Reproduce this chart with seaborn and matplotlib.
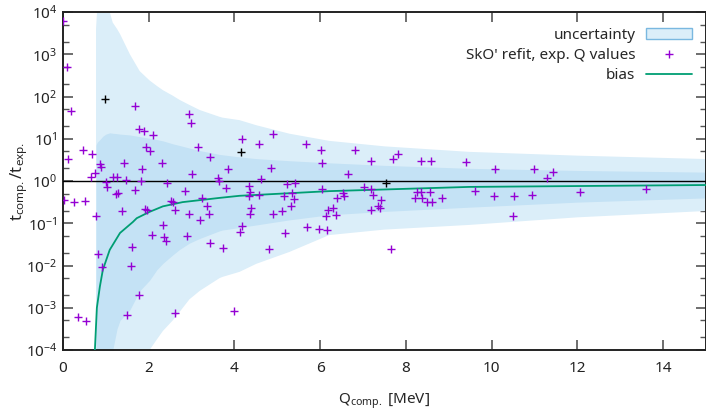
import numpy as np
import pandas as pd
import seaborn as sns
import matplotlib.pyplot as plt
from matplotlib.patches import Patch
from matplotlib.lines import Line2D
from matplotlib.ticker import LogLocator, MultipleLocator, NullFormatter

# uncertainty bands (log10 of t_comp/t_exp)
band_q = [0.77, 0.80, 0.86, 0.93, 1.00, 1.09, 1.16, 1.26, 1.33, 1.56, 1.79, 2.02,
          2.19, 2.33, 2.56, 2.72, 2.95, 3.19, 3.65, 3.72, 4.12, 4.51, 5.28, 6.21,
          7.50, 9.47, 12.0, 15.0]
outer_hi = [3.60, 4.10, 4.40, 4.50, 4.40, 4.00, 3.75, 3.60, 3.48, 3.00, 2.60, 2.38,
            2.25, 2.15, 2.02, 1.92, 1.80, 1.68, 1.52, 1.50, 1.44, 1.32, 1.12, 0.95,
            0.82, 0.69, 0.60, 0.52]
inner_hi = [0.85, 0.92, 0.98, 1.06, 1.11, 1.14, 1.13, 1.12, 1.11, 1.09, 1.05, 1.01,
            0.98, 0.95, 0.88, 0.84, 0.78, 0.72, 0.63, 0.62, 0.57, 0.53, 0.48, 0.43,
            0.37, 0.30, 0.25, 0.21]
inner_lo = [-6.0, -6.0, -6.0, -6.0, -6.0, -5.0, -4.0, -3.50, -3.30, -3.05, -2.60, -2.35,
            -2.10, -1.95, -1.75, -1.62, -1.47, -1.36, -1.18, -1.16, -1.10, -1.04, -0.92, -0.80,
            -0.72, -0.62, -0.50, -0.40]
outer_lo = [-6.0, -6.0, -6.0, -6.0, -6.0, -6.0, -6.0, -6.0, -6.0, -6.0, -6.0, -4.00,
            -3.75, -3.55, -3.30, -3.10, -2.80, -2.60, -2.30, -2.27, -2.15, -1.96, -1.68, -1.28,
            -1.15, -1.04, -0.86, -0.71]

# bias curve
bias_q = [0.744, 0.79, 0.86, 0.93, 1.09, 1.33, 1.63, 1.72, 2.02, 2.33, 2.79,
          3.65, 4.12, 6.21, 9.47, 15.0]
bias_log = [-4.0, -3.0, -2.5, -2.1, -1.63, -1.23, -0.97, -0.88, -0.73, -0.60, -0.50,
            -0.40, -0.35, -0.24, -0.14, -0.095]

# SkO' refit, exp. Q values
pts_q = [0.00, 0.09, 0.18, 1.67, 1.78, 1.88, 2.09, 2.94, 2.98,
         4.18, 4.89, 4.57, 0.02, 0.12, 0.26, 0.46, 0.52, 0.67, 0.66, 0.74,
         0.86, 0.88, 0.78, 1.00, 1.02, 0.81, 1.17, 1.26, 1.23, 1.29, 1.43,
         1.48, 1.37, 1.67, 1.84, 1.83, 1.62, 1.58, 1.92, 1.95, 1.93, 2.04,
         2.30, 2.43, 2.07, 2.33, 2.35, 2.41, 2.51, 2.57, 2.62, 2.85, 2.93,
         2.89, 3.14, 3.01, 3.20, 3.25, 3.36, 3.40, 3.42, 3.43, 3.61, 3.65,
         3.73, 3.81, 3.86, 0.91, 1.77, 1.49, 0.34, 0.53, 2.62, 3.98,
         5.68, 6.03, 6.05, 6.81, 4.86, 4.63, 4.35, 4.37, 4.33, 4.57, 4.38,
         4.37, 4.18, 4.13, 5.22, 5.42, 5.34, 5.15, 5.38, 5.32, 5.11, 4.91,
         5.17, 4.81, 5.69, 5.98, 6.16, 6.05, 6.40, 6.53, 6.56, 6.64, 6.19,
         6.31, 6.14, 6.38, 7.02, 7.18, 7.23, 7.41, 7.35, 7.39, 7.18, 7.18,
         7.70, 7.82, 7.66, 8.35, 8.58, 9.41, 8.25, 8.36, 8.55, 8.22, 8.37,
         8.48, 8.61, 8.83, 10.07, 10.98, 11.42, 11.29, 9.60, 10.05, 10.52,
         10.95, 10.50, 12.05, 13.61]
pts_t = [6200, 500, 45, 60, 17, 15, 12.5, 39, 23,
         9.7, 13, 7.5, 0.36, 3.3, 0.32, 5.4, 0.34, 4.3, 1.27, 1.57,
         2.5, 2.1, 0.15, 0.93, 0.71, 0.019, 1.27, 1.27, 0.48, 0.51, 2.7,
         1.05, 0.19, 0.61, 1.9, 1.0, 0.028, 0.010, 0.22, 0.21, 6.5, 5.2,
         2.6, 0.91, 0.054, 0.091, 0.047, 0.037, 0.34, 0.31, 0.21, 0.58, 0.17,
         0.05, 6.5, 1.44, 0.12, 0.40, 0.26, 0.17, 0.035, 3.8, 1.2, 1.0,
         0.026, 0.67, 1.9, 0.0091, 0.002, 0.00067, 0.00059, 0.00049, 0.00074, 0.00085,
         7.4, 5.4, 2.6, 5.4, 2.0, 1.1, 0.76, 0.55, 0.43, 0.46, 0.23,
         0.17, 0.086, 0.063, 0.85, 0.88, 0.53, 0.43, 0.37, 0.26, 0.20, 0.17,
         0.060, 0.025, 0.083, 0.074, 0.069, 0.64, 0.40, 0.53, 0.44, 1.5, 0.21,
         0.23, 0.15, 0.16, 0.73, 0.66, 0.46, 0.35, 0.26, 0.23, 0.21, 2.9,
         3.4, 4.4, 0.025, 2.9, 2.9, 2.8, 0.54, 0.54, 0.54, 0.40, 0.40,
         0.31, 0.31, 0.39, 1.9, 1.9, 1.6, 1.16, 0.58, 0.44, 0.44,
         0.46, 0.15, 0.54, 0.64]

# a few points drawn in black
black_q = [0.98, 4.16, 7.53]
black_t = [86, 4.9, 0.88]

purple = '#9400d3'
green = '#009e73'
outer_col = '#dbeef9'
inner_col = '#c4e2f5'

sns.set_theme(style='ticks')
plt.rcParams['font.family'] = ['Noto Sans', 'DejaVu Sans']
plt.rcParams['mathtext.fontset'] = 'custom'
plt.rcParams['mathtext.rm'] = 'Noto Sans'
plt.rcParams['mathtext.it'] = 'Noto Sans'

fig = plt.figure(figsize=(7.06, 4.16), dpi=100)
ax = fig.add_axes([63 / 706, 1 - 350 / 416, 643 / 706, 338 / 416])

bq = np.array(band_q)
ax.fill_between(bq, 10 ** np.array(outer_lo), 10 ** np.array(outer_hi),
                color=outer_col, lw=0, zorder=1)
ax.fill_between(bq, 10 ** np.array(inner_lo), 10 ** np.array(inner_hi),
                color=inner_col, lw=0, zorder=2)

ax.axhline(1.0, color='black', lw=1.0, zorder=3)

bias = pd.DataFrame({'q': bias_q, 't': 10 ** np.array(bias_log)})
sns.lineplot(data=bias, x='q', y='t', color=green, lw=1.3, ax=ax, zorder=4)

pts = pd.DataFrame({'q': pts_q, 't': pts_t})
sns.scatterplot(data=pts, x='q', y='t', marker='+', s=36, color=purple,
                linewidth=1.0, ax=ax, zorder=5)
blk = pd.DataFrame({'q': black_q, 't': black_t})
sns.scatterplot(data=blk, x='q', y='t', marker='+', s=36, color='black',
                linewidth=1.0, ax=ax, zorder=6)

ax.set_yscale('log')
ax.set_xlim(0, 15)
ax.set_ylim(1e-4, 1e4)
ax.xaxis.set_major_locator(MultipleLocator(2))
ax.yaxis.set_major_locator(LogLocator(base=10, numticks=20))
ax.yaxis.set_minor_locator(LogLocator(base=10, subs=(2.0, 5.0), numticks=20))
ax.yaxis.set_minor_formatter(NullFormatter())
ax.tick_params(which='both', direction='in', top=True, right=True,
               labelsize=11, colors='#222222')
ax.tick_params(axis='x', pad=8)
ax.tick_params(axis='y', pad=4)
ax.tick_params(which='major', length=7, width=1.2, color='#555555')
ax.tick_params(which='minor', length=4, width=1.0, color='#555555')
for s in ax.spines.values():
    s.set_linewidth(1.4)
    s.set_color('#222222')

ax.set_xlabel(r'$\mathrm{Q_{comp.}}$ [MeV]', fontsize=11, labelpad=11)
ax.set_ylabel(r'$\mathrm{t_{comp.}/t_{exp.}}$', fontsize=12)
ax.yaxis.set_label_coords(-0.052, 0.5)

handles = [Patch(facecolor=outer_col, edgecolor='#7ab8e0', lw=1.0),
           Line2D([], [], ls='none', marker='+', ms=6, mew=1.0, color=purple),
           Line2D([], [], color=green, lw=1.3)]
labels = ['uncertainty', "SkO' refit, exp. Q values", 'bias']
ax.legend(handles, labels, loc='upper right', bbox_to_anchor=(0.995, 0.985),
          frameon=False, markerfirst=False, fontsize=11, handlelength=3.0,
          handletextpad=0.7, labelspacing=0.35, borderaxespad=0.3)

fig.savefig('out.png', dpi=100)
